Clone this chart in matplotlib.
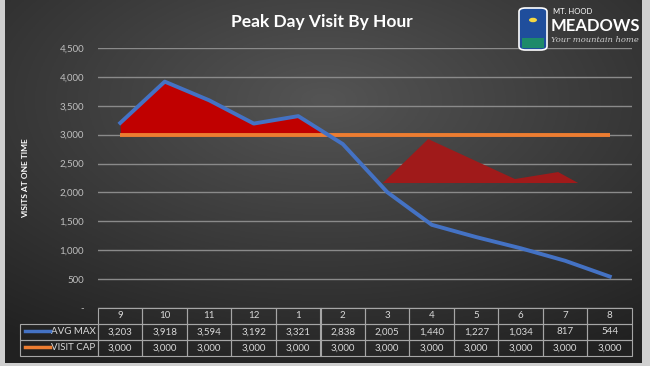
import numpy as np
import matplotlib.pyplot as plt
from matplotlib.patches import FancyBboxPatch, Circle, Polygon
from matplotlib.lines import Line2D

plt.rcParams['font.family'] = ['Lato', 'DejaVu Sans']

# данные
hours = ['9', '10', '11', '12', '1', '2', '3', '4', '5', '6', '7', '8']
avg_max = [3203, 3918, 3594, 3192, 3321, 2838, 2005, 1440, 1227, 1034, 817, 544]
visit_cap = [3000] * 12
# второй (тёмный) красный контур справа
ghost_x = [5.9, 6.92, 8.87, 9.84, 10.29]
ghost_y = [2163, 2924, 2232, 2353, 2163]
yticks = [0, 500, 1000, 1500, 2000, 2500, 3000, 3500, 4000, 4500]
ytick_labels = ['-', '500', '1,000', '1,500', '2,000', '2,500', '3,000', '3,500', '4,000', '4,500']

W, H = 650, 366
fig = plt.figure(figsize=(6.5, 3.66), dpi=100, facecolor='#cfcfcf')

# фон с радиальным градиентом (светлее к центру сверху)
bg = fig.add_axes([5 / W, 3 / H, 637 / W, 363 / H])
gx, gy = np.meshgrid(np.linspace(-1, 1, 300), np.linspace(-1, 1, 200))
r = np.sqrt((gx * 0.85) ** 2 + ((gy + 0.45) * 0.9) ** 2)
t = np.clip(1 - r / 1.45, 0, 1)
dark, light = np.array([0.13, 0.13, 0.13]), np.array([0.33, 0.33, 0.33])
img = dark + (light - dark) * t[..., None]
bg.imshow(img, aspect='auto', extent=[0, 1, 0, 1])
bg.axis('off')

ax = fig.add_axes([98 / W, 1 - 308 / H, 534 / W, 260 / H])
ax.set_facecolor('none')
x = np.arange(len(hours))
avg = np.array(avg_max)
cap = np.array(visit_cap)

ax.fill_between(x, avg, cap, where=avg > cap, interpolate=True, color='#c00000', lw=0, zorder=2)
ax.fill(ghost_x, ghost_y, color='#a01a1a', lw=0, zorder=2)
ax.plot(x, cap, color='#ed7d31', lw=2.8, zorder=3, solid_capstyle='butt')
ax.plot(x, avg, color='#4472c4', lw=2.8, zorder=4)

ax.set_xlim(-0.5, 11.5)
ax.set_ylim(0, 4500)
ax.set_yticks(yticks)
ax.set_yticklabels(ytick_labels, color='#bfbfbf', fontsize=7)
ax.yaxis.grid(True, color='#8a8a8a', lw=1)
ax.set_axisbelow(True)
ax.tick_params(axis='y', length=0, pad=10)
ax.set_xticks([])
for s in ax.spines.values():
    s.set_visible(False)

# таблица данных
cells = [[''] + hours,
         ['AVG MAX'] + [f'{v:,}' for v in avg_max],
         ['VISIT CAP'] + [f'{v:,}' for v in visit_cap]]
lab_w = 78 / 534
tbl = ax.table(cellText=cells, colWidths=[lab_w] + [1 / 12] * 12,
               bbox=[-lab_w, -48 / 260, 1 + lab_w, 48 / 260], cellLoc='center')
tbl.auto_set_font_size(False)
for (i, j), c in tbl.get_celld().items():
    c.set_facecolor('none')
    c.set_edgecolor('#a6a6a6')
    c.set_linewidth(0.8)
    c.get_text().set_color('#d9d9d9')
    c.get_text().set_fontsize(7)
    if j == 0:
        c.get_text().set_ha('right')
        c.PAD = 0.03
        c._loc = 'right'
    if i == 0 and j == 0:
        c.set_edgecolor('none')

# ключи легенды в таблице
fig.add_artist(Line2D([25 / W, 50 / W], [1 - 331 / H] * 2, color='#4472c4', lw=2.5))
fig.add_artist(Line2D([25 / W, 50 / W], [1 - 347 / H] * 2, color='#ed7d31', lw=2.5))

# заголовок и подпись оси
fig.text(322 / W, 1 - 22 / H, 'Peak Day Visit By Hour', color='white', fontsize=12.5,
         fontweight='bold', ha='center', va='center')
fig.text(26 / W, 1 - 178 / H, 'VISITS AT ONE TIME', color='white', fontsize=6,
         fontweight='bold', rotation=90, ha='center', va='center')

# логотип
fig.add_artist(FancyBboxPatch((519 / W, 1 - 50 / H), 28 / W, 42 / H,
                              boxstyle='round,pad=0,rounding_size=0.01',
                              fc='#1f4e9c', ec='white', lw=1.2, transform=fig.transFigure))
fig.add_artist(Circle((533 / W, 1 - 20 / H), 4 / W, fc='#f5d742', ec='none', transform=fig.transFigure))
fig.add_artist(Polygon([[522 / W, 1 - 48 / H], [544 / W, 1 - 48 / H], [544 / W, 1 - 38 / H],
                        [522 / W, 1 - 38 / H]], fc='#1d8a6a', ec='none', transform=fig.transFigure))
fig.text(553 / W, 1 - 12 / H, 'MT. HOOD', color='white', fontsize=5.5, va='center')
fig.text(551 / W, 1 - 26 / H, 'MEADOWS', color='white', fontsize=12, fontweight='bold', va='center')
fig.text(551 / W, 1 - 40 / H, 'Your mountain home', color='#cccccc', fontsize=6,
         style='italic', va='center', family='DejaVu Serif')
fig.add_artist(Polygon([[642 / W, 0], [1, 0], [1, 1], [642 / W, 1]], fc='#d0d0d0',
                       ec='none', transform=fig.transFigure, zorder=10))

fig.savefig('out.png', dpi=100, facecolor=fig.get_facecolor())
